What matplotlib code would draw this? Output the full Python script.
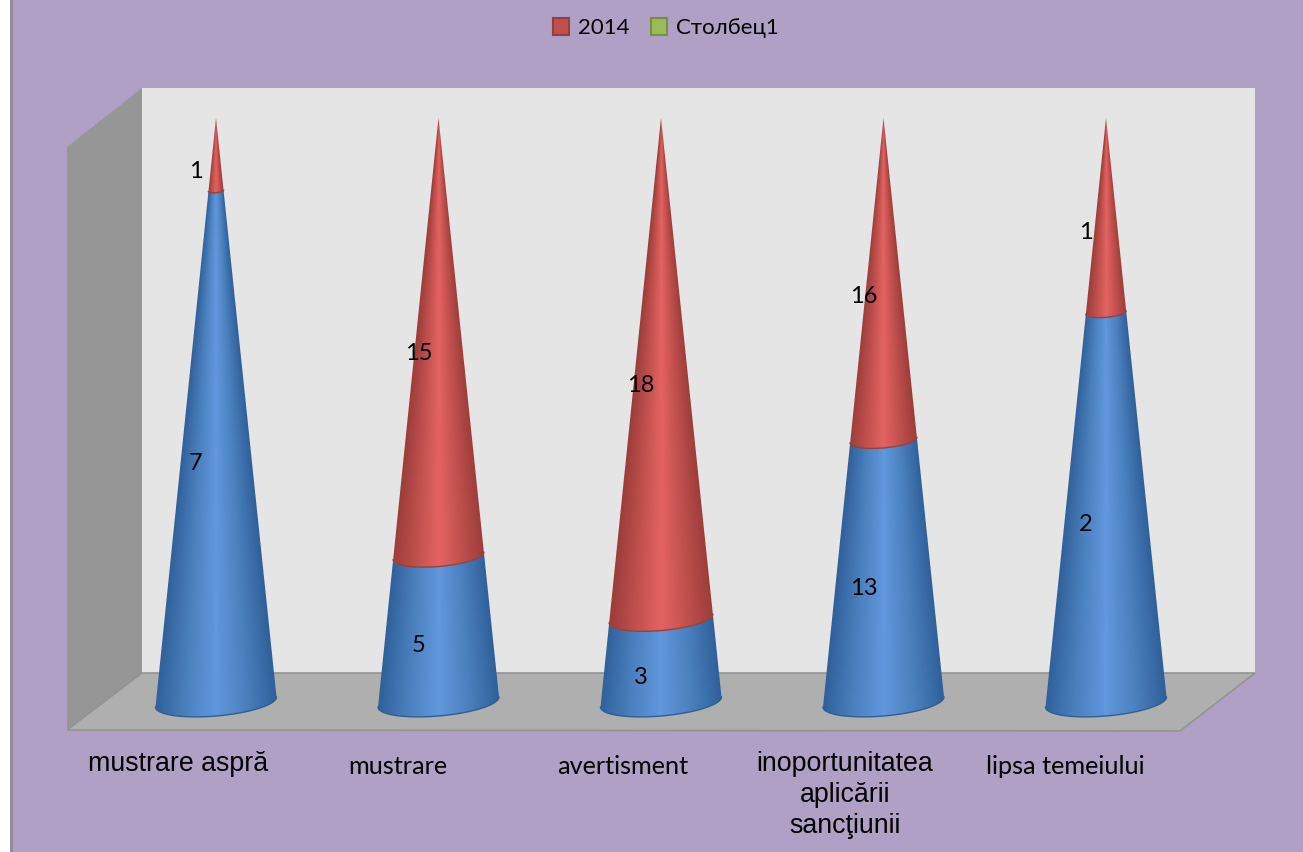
import numpy as np
import matplotlib
matplotlib.use('Agg')
import matplotlib.pyplot as plt
from matplotlib.colors import LinearSegmentedColormap
from matplotlib.patches import Patch, Polygon

categories = ['mustrare aspră', 'mustrare', 'avertisment',
              'inoportunitatea\naplicării\nsancţiunii', 'lipsa temeiului']
blue_vals = [7, 5, 3, 13, 2]
red_vals = [1, 15, 18, 16, 1]
legend_names = ['2014', 'Столбец1']

# the source mixes two fonts on the axis labels
label_fonts = ['Liberation Sans', 'Lato', 'Lato', 'Liberation Sans', 'Lato']
label_sizes = [19.3, 18.2, 18.2, 19.3, 18.2]
label_dx = [-37.5, -40.5, -38, -38.5, -40.5]
label_dy = [-62, -64, -64, -49, -64]

W, H = 1303, 852
blue_cmap = LinearSegmentedColormap.from_list('b', ['#30609a', '#4a80bd', '#6198de', '#4a80bd', '#30609a'])
red_cmap = LinearSegmentedColormap.from_list('r', ['#9c3d3a', '#c0504d', '#e46362', '#c0504d', '#9c3d3a'])

fig = plt.figure(figsize=(W / 100, H / 100), dpi=100, facecolor='white')

# backdrop in pixel coordinates
bg = fig.add_axes([0, 0, 1, 1])
bg.set_xlim(0, W)
bg.set_ylim(H, 0)
bg.axis('off')
bg.add_patch(Polygon([(10, 0), (W, 0), (W, H), (10, H)], fc='#b0a0c6', ec='none'))
bg.plot([10.5, 10.5], [0, H], color='#8e8e8e', lw=2)
bg.add_patch(Polygon([(67, 147), (142, 88), (142, 673), (67, 730)], fc='#969696', ec='none'))
bg.add_patch(Polygon([(142, 88), (1255, 88), (1255, 673), (142, 673)], fc='#e5e5e5', ec='none'))
bg.add_patch(Polygon([(67, 730), (142, 673), (1255, 673), (1180, 731)], fc='#afafaf', ec='#939393', lw=1.2))

# cone axes: categories on x, share of the stack on y
# y starts below 0 because the front of the base ellipse hangs under it
left, right, base_px, apex_px = 104.75, 1217.25, 702, 118
y_min = -0.06
unit_px = base_px - apex_px
bottom_px = base_px - y_min * unit_px
ax = fig.add_axes([left / W, 1 - bottom_px / H, (right - left) / W, (bottom_px - apex_px) / H])
ax.axis('off')
ax.patch.set_alpha(0)

half_w = 60.5 / 222.5
minor = 14 / unit_px
tilt = 5 / 60 * 222.5 / unit_px


def front_arc(c, f):
    w = half_w * (1 - f)
    t = np.linspace(0, np.pi, 60)
    dx = w * np.cos(t)
    return c + dx, f - minor * (1 - f) * np.sin(t) + tilt * dx


def segment(c, f0, f1, cmap, edge):
    x0, y0 = front_arc(c, f0)
    x1, y1 = front_arc(c, f1)
    pts = np.r_[np.c_[x0, y0], np.c_[x1, y1][::-1]]
    w = half_w * (1 - f0) * 1.05
    y_lo, y_hi = max(f0 - 0.05, y_min), min(f1 + 0.03, 1)
    # shading runs across the local width so it narrows towards the apex
    gx, gy = np.meshgrid(np.linspace(-w, w, 240), np.linspace(y_lo, y_hi, 400))
    shade = np.clip(gx / (half_w * np.maximum(1 - gy, 1e-3)) / 2 + 0.5, 0, 1)
    im = ax.imshow(shade, cmap=cmap, vmin=0, vmax=1, origin='lower',
                   extent=[c - w, c + w, y_lo, y_hi],
                   aspect='auto', zorder=3, interpolation='bilinear')
    poly = Polygon(pts, fc='none', ec='none', transform=ax.transData)
    ax.add_patch(poly)
    im.set_clip_path(poly)
    ax.plot(x0, y0, color=edge, lw=1.0, zorder=4, clip_on=False)


for i, (b, r) in enumerate(zip(blue_vals, red_vals)):
    share = b / (b + r)
    segment(i, 0, share, blue_cmap, '#2f5f92')
    segment(i, share, 1, red_cmap, '#98403d')
    for val, mid in ((b, share / 2), (r, (share + 1) / 2)):
        ax.annotate(str(val), (i, mid), xytext=(-20, -17), textcoords='offset pixels',
                    ha='center', va='center', fontsize=17, family='Lato',
                    color='black', zorder=6, annotation_clip=False)
    ax.annotate(categories[i], (i, 0), xytext=(label_dx[i], label_dy[i]), textcoords='offset pixels',
                ha='center', va='center' if '\n' not in categories[i] else 'top',
                fontsize=label_sizes[i], family=label_fonts[i], color='black',
                linespacing=1.25, annotation_clip=False)
ax.set_xlim(-0.5, 4.5)
ax.set_ylim(y_min, 1)

handles = [Patch(fc='#c0504d', ec='#93403d', lw=1.5), Patch(fc='#9bbb59', ec='#76913f', lw=1.5)]
fig.legend(handles, legend_names, ncol=2, loc='center', bbox_to_anchor=(666 / W, 1 - 28 / H),
           frameon=False, handlelength=0.72, handleheight=0.8, handletextpad=0.4,
           columnspacing=1.0, prop={'family': ['Lato', 'Open Sans'], 'size': 16})

fig.savefig('out.png', dpi=100)
